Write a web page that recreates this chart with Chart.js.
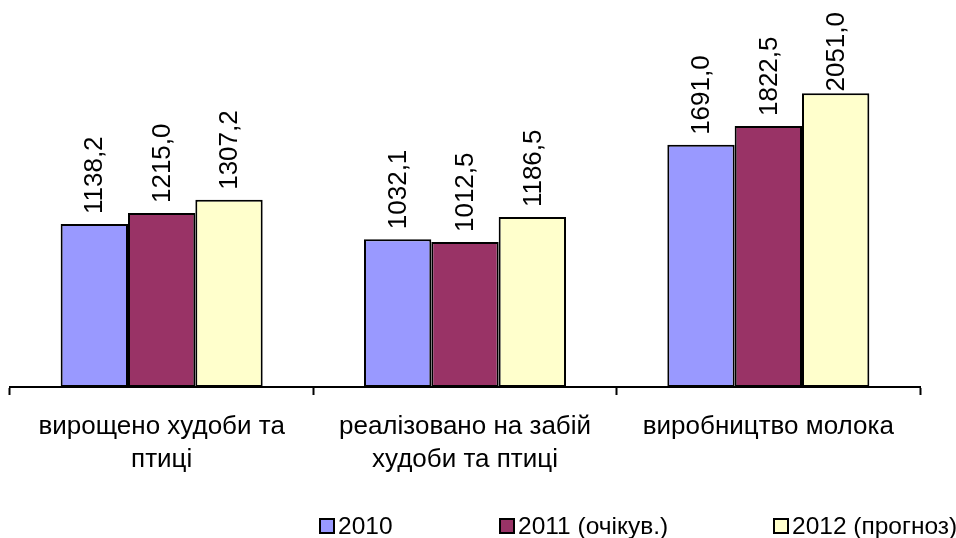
<!DOCTYPE html>
<html>
<head>
<meta charset="utf-8">
<script src="https://cdn.jsdelivr.net/npm/chart.js@4.4.1/dist/chart.umd.min.js"></script>
<style>
  html, body { margin: 0; padding: 0; background: #fff; }
  #wrap { width: 956px; height: 538px; position: relative; }
</style>
</head>
<body>
<div id="wrap"><canvas id="c" width="956" height="538"></canvas></div>
<script>
const categories = [
  ['вирощено худоби та', 'птиці'],
  ['реалізовано на забій', 'худоби та птиці'],
  ['виробництво молока']
];
const seriesNames = ['2010', '2011 (очікув.)', '2012 (прогноз)'];
const values2010 = [1138.2, 1032.1, 1691.0];
const values2011 = [1215.0, 1012.5, 1822.5];
const values2012 = [1307.2, 1186.5, 2051.0];
const seriesColors = ['#9999FF', '#993366', '#FFFFCC'];

const FONT = '"Liberation Sans", Arial, sans-serif';

const valueLabels = {
  id: 'valueLabels',
  afterDatasetsDraw(chart) {
    const ctx = chart.ctx;
    ctx.save();
    ctx.font = '26px ' + FONT;
    ctx.fillStyle = '#000';
    ctx.textAlign = 'left';
    ctx.textBaseline = 'middle';
    chart.data.datasets.forEach((ds, di) => {
      const meta = chart.getDatasetMeta(di);
      meta.data.forEach((bar, i) => {
        const txt = ds.data[i].toFixed(1).replace('.', ',');
        const w = ctx.measureText(txt).width;
        let start = bar.y - 10;
        if (start - w < 12) start = w + 12;
        ctx.save();
        ctx.translate(bar.x + 1, start);
        ctx.rotate(-Math.PI / 2);
        ctx.fillText(txt, 0, 0);
        ctx.restore();
      });
    });
    ctx.restore();
  }
};

const customLegend = {
  id: 'customLegend',
  afterDraw(chart, args, opts) {
    const ctx = chart.ctx;
    ctx.save();
    ctx.font = '24.5px ' + FONT;
    ctx.textAlign = 'left';
    ctx.textBaseline = 'middle';
    chart.data.datasets.forEach((ds, i) => {
      const x = opts.xs[i];
      const y = opts.y;
      ctx.fillStyle = ds.backgroundColor;
      ctx.fillRect(x, y - 7, 14, 14);
      ctx.lineWidth = 2;
      ctx.strokeStyle = '#000';
      ctx.strokeRect(x, y - 7, 14, 14);
      ctx.fillStyle = '#000';
      ctx.fillText(ds.label, x + 18, y + 1);
    });
    ctx.restore();
  }
};

const allValues = [values2010, values2011, values2012];

new Chart(document.getElementById('c'), {
  type: 'bar',
  data: {
    labels: categories,
    datasets: seriesNames.map((name, i) => ({
      label: name,
      data: allValues[i],
      backgroundColor: seriesColors[i],
      borderColor: '#000',
      borderWidth: 2,
      borderSkipped: false,
      categoryPercentage: 0.666,
      barPercentage: 1.0
    }))
  },
  options: {
    responsive: false,
    animation: false,
    devicePixelRatio: 1,
    layout: { padding: { top: 29, left: 10, right: 36, bottom: 0 } },
    plugins: {
      legend: { display: false },
      tooltip: { enabled: false },
      customLegend: { xs: [320, 500, 774], y: 526 }
    },
    scales: {
      x: {
        afterFit(scale) { scale.height = 151; },
        grid: {
          display: true,
          drawOnChartArea: false,
          drawTicks: true,
          tickLength: 8,
          tickColor: '#000',
          tickWidth: 2,
          color: '#000',
          offset: true
        },
        border: { display: true, color: '#000', width: 2 },
        ticks: {
          color: '#000',
          padding: 16,
          maxRotation: 0,
          autoSkip: false,
          font: { family: FONT, size: 26, lineHeight: 1.24 }
        }
      },
      y: {
        display: false,
        min: 0,
        max: 2500
      }
    }
  },
  plugins: [valueLabels, customLegend]
});
</script>
</body>
</html>
